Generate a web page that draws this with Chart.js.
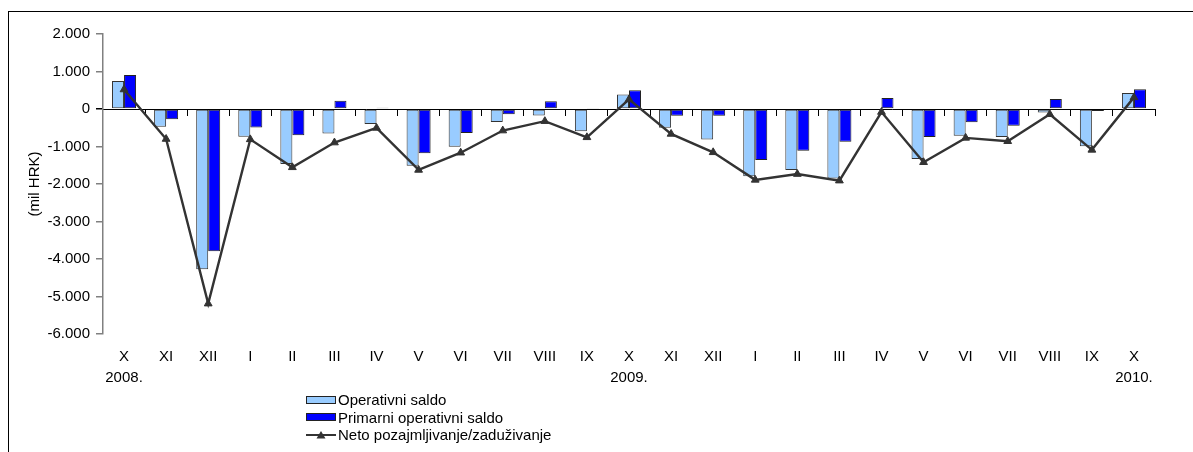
<!DOCTYPE html>
<html>
<head>
<meta charset="utf-8">
<script src="https://cdn.jsdelivr.net/npm/chart.js@4"></script>
<style>
  html, body { margin: 0; padding: 0; background: #fff; overflow: hidden; }
  #wrap { position: relative; width: 1193px; height: 452px; }
  #frame { position: absolute; left: 8px; top: 11px; width: 1300px; height: 600px; border: 1px solid #000; box-sizing: border-box; }
  #cv { position: absolute; left: 0; top: 0; }
  #legend { position: absolute; left: 306px; top: 391px; font-family: "Liberation Sans", Arial, sans-serif; font-size: 15px; color: #000; }
  .item { display: flex; align-items: center; height: 17.5px; white-space: nowrap; }
  .sw { width: 30px; height: 8px; box-sizing: border-box; border: 1px solid #222; margin-right: 2px; }
  .ln { width: 30px; height: 10px; margin-right: 2px; }
</style>
</head>
<body>
<div id="wrap">
  <div id="frame"></div>
  <canvas id="cv" width="1193" height="452"></canvas>
  <div id="legend"></div>
</div>
<script>
const months = ["X","XI","XII","I","II","III","IV","V","VI","VII","VIII","IX","X","XI","XII","I","II","III","IV","V","VI","VII","VIII","IX","X"];
const yearLabels = {0: "2008.", 12: "2009.", 24: "2010."};
const seriesNames = ["Operativni saldo", "Primarni operativni saldo", "Neto pozajmljivanje/zaduživanje"];
const operativniSaldo = [750, -470, -4275, -740, -1465, -650, -400, -1510, -1005, -345, -170, -595, 390, -500, -810, -1795, -1625, -1850, 0, -1335, -710, -745, -90, -995, 425];
const primarniSaldo = [910, -275, -3795, -490, -700, 220, 35, -1180, -640, -140, 205, 25, 500, -180, -180, -1360, -1110, -870, 295, -745, -355, -445, 265, -55, 525];
const netoPozajmljivanje = [520, -800, -5190, -810, -1555, -895, -505, -1625, -1165, -575, -325, -755, 255, -665, -1155, -1890, -1735, -1910, -80, -1420, -770, -860, -140, -1090, 310];
const yTicks = { min: -6000, max: 2000, step: 1000 };

const labels = months.map((m, i) => yearLabels[i] ? [m, yearLabels[i]] : m);
const FONT = "'Liberation Sans', Arial, sans-serif";
const lightBlue = "#99CCFF", darkBlue = "#0000FF", lineCol = "#333333";

function fmt(v) {
  const s = Math.abs(v).toString().replace(/\B(?=(\d{3})+(?!\d))/g, ".");
  return (v < 0 ? "-" : "") + s;
}

const chart = new Chart(document.getElementById("cv"), {
  type: "bar",
  data: {
    labels: labels,
    datasets: [
      { type: "bar", label: seriesNames[0], data: operativniSaldo, stack: "s1", backgroundColor: lightBlue, borderColor: "#333", borderWidth: 1, borderSkipped: false, order: 1, barPercentage: 1, categoryPercentage: 0.571 },
      { type: "bar", label: seriesNames[1], data: primarniSaldo, stack: "s2", backgroundColor: darkBlue, borderColor: "#222", borderWidth: 1, borderSkipped: false, order: 1, barPercentage: 1, categoryPercentage: 0.571 },
      { type: "line", label: seriesNames[2], data: netoPozajmljivanje, order: 0,
        borderColor: lineCol, borderWidth: 2.4, backgroundColor: lineCol, pointStyle: "triangle",
        pointRadius: 4.5, pointBackgroundColor: lineCol, pointBorderColor: lineCol, pointBorderWidth: 1, tension: 0, fill: false }
    ]
  },
  options: {
    responsive: false,
    animation: false,
    devicePixelRatio: 1,
    layout: { padding: { top: 34, right: 38, left: 0, bottom: 0 } },
    plugins: { legend: { display: false }, tooltip: { enabled: false } },
    scales: {
      x: {
        position: "bottom",
        offset: true,
        grid: { display: false, drawTicks: false },
        border: { display: false },
        ticks: { color: "#000", font: { family: FONT, size: 15, lineHeight: 1.4 }, padding: 12, maxRotation: 0, autoSkip: false },
        afterFit: s => { s.height = 118; }
      },
      x2: {
        type: "category",
        labels: months,
        position: { y: 0 },
        offset: true,
        grid: { offset: true, drawOnChartArea: false, drawTicks: true, tickLength: 6, color: "#000", lineWidth: 1 },
        border: { display: true, color: "#000", width: 1 },
        ticks: { display: false }
      },
      y: {
        min: yTicks.min, max: yTicks.max,
        grid: { drawOnChartArea: false, drawTicks: true, tickLength: 7, color: ctx => ctx.tick && ctx.tick.value === 0 ? "#000" : "#808080", lineWidth: 1.5 },
        border: { display: true, color: "#808080", width: 1.5 },
        ticks: { stepSize: yTicks.step, color: "#000", font: { family: FONT, size: 15 }, padding: 6, callback: v => fmt(v) },
        title: { display: true, text: "(mil HRK)", color: "#000", font: { family: FONT, size: 15 }, padding: { top: 26, bottom: 0 } },
        afterFit: s => { s.width = 103; }
      }
    }
  }
});

// HTML legend built from the datasets
const leg = document.getElementById("legend");
[0, 1, 2].forEach(i => {
  const ds = chart.data.datasets[i];
  const row = document.createElement("div");
  row.className = "item";
  if (ds.type === "line") {
    row.innerHTML = '<svg class="ln" viewBox="0 0 30 10"><line x1="0" y1="5" x2="30" y2="5" stroke="' + lineCol + '" stroke-width="2"/><polygon points="15,1 19.5,8.5 10.5,8.5" fill="' + lineCol + '"/></svg>';
  } else {
    const sw = document.createElement("div");
    sw.className = "sw";
    sw.style.background = ds.backgroundColor;
    row.appendChild(sw);
  }
  const t = document.createElement("span");
  t.textContent = ds.label;
  row.appendChild(t);
  leg.appendChild(row);
});
</script>
</body>
</html>
